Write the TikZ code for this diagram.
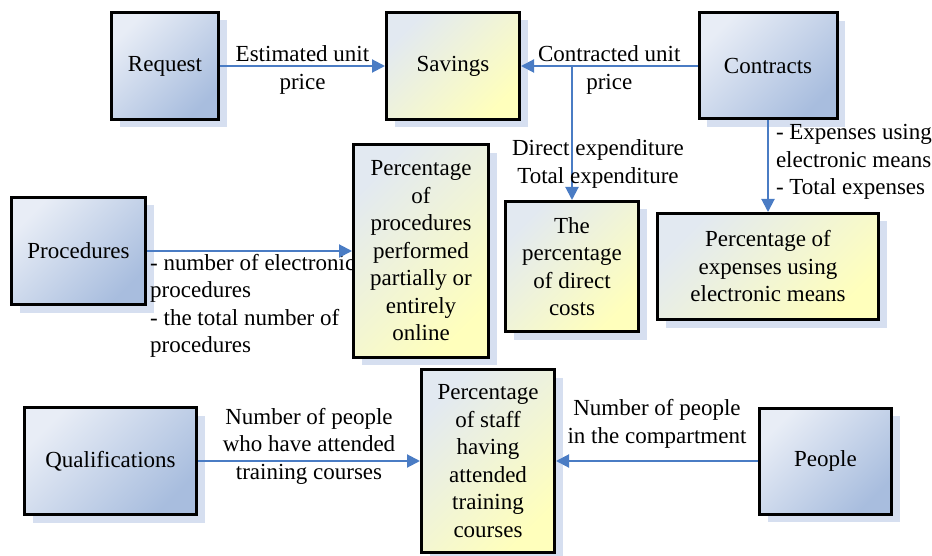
\documentclass[tikz,border=0pt]{standalone}
\usepackage{fontspec}
\setmainfont{Liberation Serif}
\usetikzlibrary{arrows.meta,shadows}
\definecolor{srcblueA}{RGB}{232,237,246}
\definecolor{srcblueB}{RGB}{168,189,222}
\definecolor{resyelA}{RGB}{226,233,241}
\definecolor{resyelB}{RGB}{255,255,188}
\definecolor{shadowblue}{RGB}{214,223,240}
\definecolor{flowblue}{RGB}{74,124,196}
\tikzset{
	box/.style={rectangle,draw=black,line width=3pt,align=center,
		drop shadow={shadow xshift=8pt,shadow yshift=-8pt,fill=shadowblue,opacity=1}},
	srcbox/.style={box,top color=srcblueA,bottom color=srcblueB,shading angle=45},
	resbox/.style={box,top color=resyelA,bottom color=resyelB,shading angle=45},
	lbl/.style={inner sep=2pt,align=center}
}
\begin{document}
\begin{tikzpicture}[x=1pt,y=-1pt,font=\fontsize{23}{27.5}\selectfont]
	\useasboundingbox (0,0) rectangle (932,556);
	\begin{scope}
	\node[srcbox,minimum width=107,minimum height=107] (request) at (165,66) {Request};
	\node[resbox,minimum width=133,minimum height=107] (savings) at (453,66) {Savings};
	\node[srcbox,minimum width=138,minimum height=106] (contracts) at (768,66) {Contracts};
	\node[srcbox,minimum width=134,minimum height=107] (procedures) at (78.5,251) {Procedures};
	% label that sits under the percentage box
	\node[lbl,anchor=west,align=left] (proclbl) at (148,306) {- number of electronic\\procedures\\- the total number of\\procedures};
	\node[resbox,minimum width=135,minimum height=212] (procpct) at (421,251) {Percentage\\of\\procedures\\performed\\partially or\\entirely\\online};
	\node[resbox,minimum width=133,minimum height=130] (directpct) at (572,266.5) {The\\percentage\\of direct\\costs};
	\node[resbox,minimum width=221,minimum height=106] (expensepct) at (768,266.5) {Percentage of\\expenses using\\electronic means};
	\node[srcbox,minimum width=172,minimum height=107] (qualif) at (110.5,461) {Qualifications};
	\node[resbox,minimum width=133,minimum height=183] (staffpct) at (488,461) {Percentage\\of staff\\having\\attended\\training\\courses};
	\node[srcbox,minimum width=132,minimum height=106] (people) at (825.5,461) {People};
	\end{scope}
	\begin{scope}[line width=2pt,draw=flowblue]
		\coordinate (split) at (572,66);
		\path [-{Triangle[length=13pt,width=13pt]}] (request) edge node[lbl,yshift=-4pt]{Estimated unit\\price} (savings);
		\path [-{Triangle[length=13pt,width=13pt]}] (contracts) edge node[lbl,yshift=-4pt]{Contracted unit\\price} (savings);
		\path [-{Triangle[length=13pt,width=13pt]}] (split) edge node[lbl,pos=0.73,xshift=26pt]{Direct expenditure\\Total expenditure} (directpct);
		\path [-{Triangle[length=13pt,width=13pt]}] (contracts) edge node[lbl,right,align=left,xshift=5pt,yshift=4pt]{- Expenses using\\electronic means\\- Total expenses} (expensepct);
		\path [-{Triangle[length=13pt,width=13pt]}] (procedures) edge (procpct);
		\path [-{Triangle[length=13pt,width=13pt]}] (qualif) edge node[lbl,yshift=15pt]{Number of people\\who have attended\\training courses} (staffpct);
		\path [-{Triangle[length=13pt,width=13pt]}] (people) edge node[lbl,yshift=37pt]{Number of people\\in the compartment} (staffpct);
	\end{scope}
\end{tikzpicture}
\end{document}
